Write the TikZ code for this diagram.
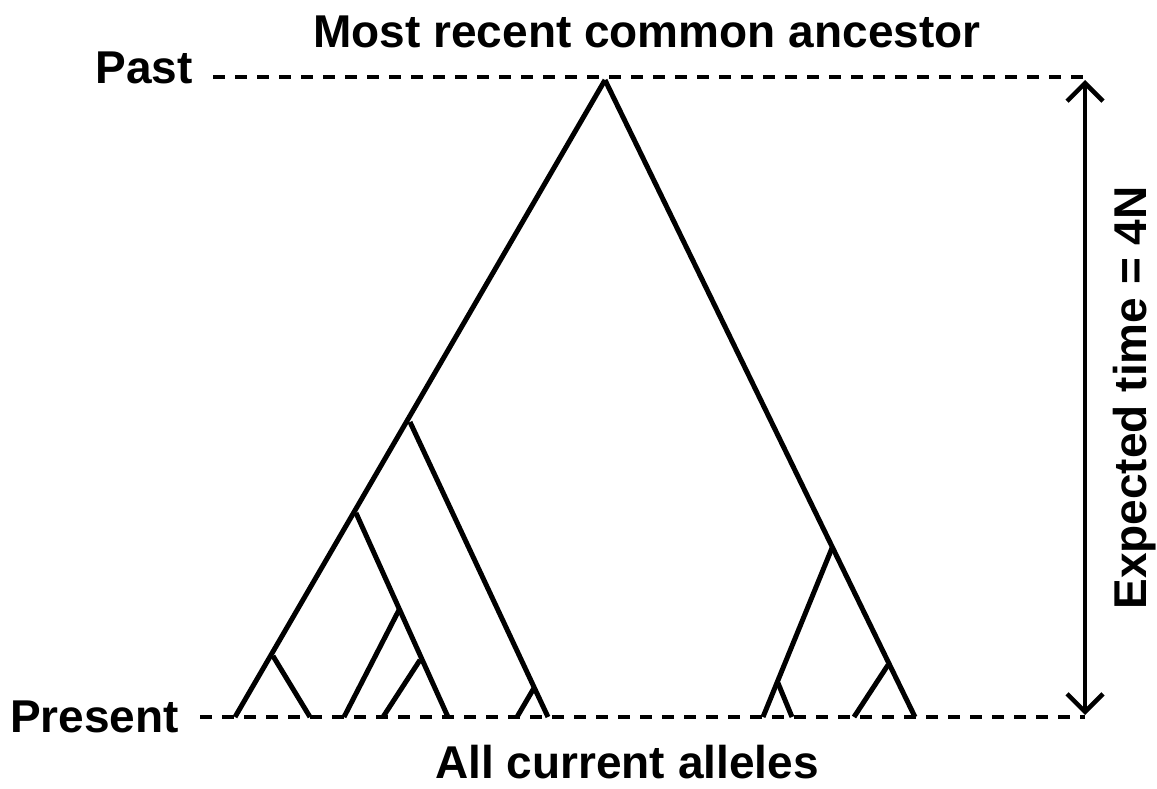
\documentclass[tikz,border=0pt]{standalone}
\usepackage{fontspec}
\setmainfont{Liberation Sans}
\usetikzlibrary{arrows.meta}
\begin{document}
\begin{tikzpicture}[x=1pt,y=-1pt,
  branch/.style={line width=5pt,line cap=butt},
  timeline/.style={line width=4pt,dash pattern=on 12pt off 10pt},
  spanbarb/.tip={Straight Barb[length=18pt,width=36pt,line width=4.5pt]},
  lbl/.style={font=\fontsize{46}{52}\selectfont\bfseries,inner sep=0pt}]
\useasboundingbox (0,0) rectangle (1157,789);
% time lines
\coordinate (pastL) at (213,77);
\coordinate (pastR) at (1085,77);
\coordinate (presL) at (200,717);
\coordinate (presR) at (1085,717);
\draw[timeline] (pastL) -- (pastR);
\draw[timeline] (presL) -- (presR);
% internal nodes of the genealogy
\coordinate (root) at (605,80);
\coordinate (a) at (410,422);
\coordinate (b) at (356,513);
\coordinate (c) at (400,608);
\coordinate (d) at (420,660);
\coordinate (e) at (534,688);
\coordinate (f) at (273,656);
\coordinate (g) at (832,548);
\coordinate (h) at (778,683);
\coordinate (i) at (888,665);
% sampled alleles
\coordinate (s1) at (235,717);
\coordinate (s2) at (310,717);
\coordinate (s3) at (344,717);
\coordinate (s4) at (383,717);
\coordinate (s5) at (448,717);
\coordinate (s6) at (517,717);
\coordinate (s7) at (548,717);
\coordinate (s8) at (763,717);
\coordinate (s9) at (792,717);
\coordinate (s10) at (854,717);
\coordinate (s11) at (915,717);
% branches
\draw[branch] (root) -- (s1);
\draw[branch] (f) -- (s2);
\draw[branch] (a) -- (s7);
\draw[branch] (e) -- (s6);
\draw[branch] (b) -- (s5);
\draw[branch] (c) -- (s3);
\draw[branch] (d) -- (s4);
\draw[branch] (root) -- (s11);
\draw[branch] (g) -- (s8);
\draw[branch] (h) -- (s9);
\draw[branch] (i) -- (s10);
% time span arrow
\coordinate (arrTop) at (1085,80);
\coordinate (arrBot) at (1085,715);
\draw[line width=4.5pt,spanbarb-spanbarb] (arrTop) -- (arrBot);
% labels
\node[lbl,anchor=base] (mrca) at (647,48) {Most recent common ancestor};
\node[lbl,anchor=base east] (past) at (193,84) {Past};
\node[lbl,anchor=west] (present) at (10,717) {Present};
\node[lbl,anchor=base] (alleles) at (627,778) {All current alleles};
\node[lbl,rotate=90,anchor=base] (tmrca) at (1146,398) {Expected time = 4N};
\end{tikzpicture}
\end{document}
